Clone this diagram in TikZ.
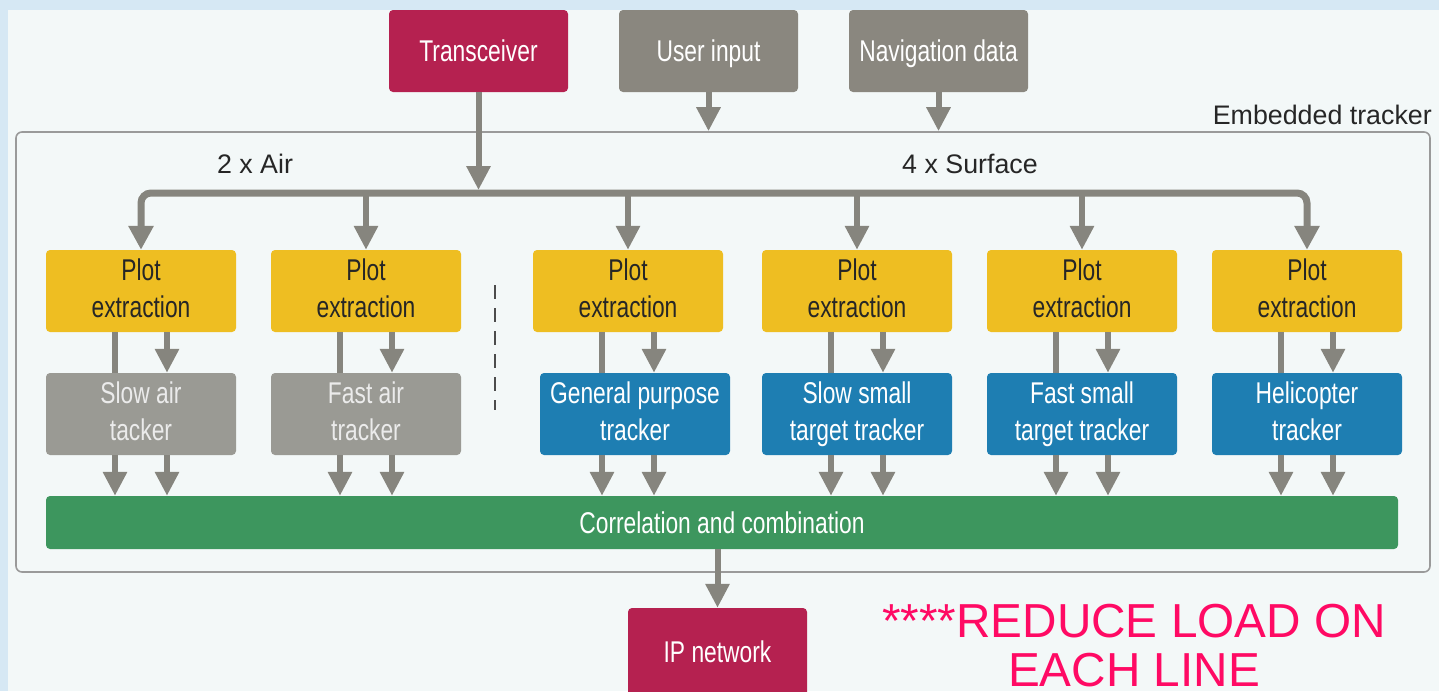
\documentclass[tikz,border=0pt]{standalone}
\usepackage{fontspec}
\setmainfont{Liberation Sans}
\newfontfamily\narrowf[FakeStretch=0.76]{Liberation Sans}
\usetikzlibrary{arrows.meta,calc}
\newcommand\bxstrut{\rule[-5.5pt]{0pt}{32.5pt}}
\definecolor{bgblue}{HTML}{D6E8F4}
\definecolor{panel}{HTML}{F3F8F8}
\definecolor{crim}{HTML}{B52150}
\definecolor{ingray}{HTML}{8A877F}
\definecolor{trgray}{HTML}{9A9A94}
\definecolor{yel}{HTML}{EEBE22}
\definecolor{blu}{HTML}{1E7EB2}
\definecolor{grn}{HTML}{3D965E}
\definecolor{arr}{HTML}{86857E}
\definecolor{embline}{HTML}{9A9A9A}
\definecolor{redtxt}{HTML}{FF0A64}
\tikzset{
  box/.style={rounded corners=4pt, inner sep=0pt, align=center,
    minimum width=190pt, minimum height=82pt,
    font=\narrowf\fontsize{30}{37}\selectfont,
    execute at begin node={\bxstrut}, execute at end node={\bxstrut}},
  inbox/.style={box, minimum width=179pt, fill=ingray, text=white},
  redbox/.style={box, minimum width=179pt, fill=crim, text=white},
  plotbox/.style={box, fill=yel, text=black!85},
  airbox/.style={box, fill=trgray, text=white!92!black},
  surfbox/.style={box, fill=blu, text=white},
  conn/.style={draw=arr, line width=6pt},
  arrow/.style={conn, -{Triangle[width=23pt,length=24pt]}},
  lbl/.style={font=\fontsize{26.8}{32}\selectfont, text=black!85, inner sep=0pt},
  note/.style={font=\fontsize{47.7}{51}\selectfont, text=redtxt, anchor=base, inner sep=0pt, text depth=0pt},
}
\begin{document}
\begin{tikzpicture}[x=1pt,y=-1pt]
\clip (0,0) rectangle (1439,691);
\fill[bgblue] (0,0) rectangle (1439,691);
\fill[panel] (8,10) rectangle (1439,691);

% embedded tracker frame
\node[draw=embline, line width=1.6pt, rounded corners=6pt, fill=panel, minimum width=1414pt, minimum height=440pt, inner sep=0pt] (emb) at (723,352) {};
\node[lbl, anchor=base east] (emblbl) at (1432,124) {Embedded tracker};
\node[lbl, anchor=base] (air) at (255,173) {2 x Air};
\node[lbl, anchor=base] (surf) at (970,173) {4 x Surface};

% inputs
\node[redbox] (trans) at (478.5,51) {Transceiver};
\node[inbox] (user) at (708.5,51) {User input};
\node[inbox] (nav) at (938.5,51) {Navigation data};

% plot extraction
\node[plotbox] (p1) at (141,291) {Plot\\extraction};
\node[plotbox] (p2) at (366,291) {Plot\\extraction};
\node[plotbox] (p3) at (628,291) {Plot\\extraction};
\node[plotbox] (p4) at (857,291) {Plot\\extraction};
\node[plotbox] (p5) at (1082,291) {Plot\\extraction};
\node[plotbox] (p6) at (1307,291) {Plot\\extraction};

% trackers
\node[airbox] (t1) at (141,414) {Slow air\\tacker};
\node[airbox] (t2) at (366,414) {Fast air\\tracker};
\node[surfbox] (t3) at (635,414) {General purpose\\tracker};
\node[surfbox] (t4) at (857,414) {Slow small\\target tracker};
\node[surfbox] (t5) at (1082,414) {Fast small\\target tracker};
\node[surfbox] (t6) at (1307,414) {Helicopter\\tracker};

% correlation
\node[box, fill=grn, text=white, minimum width=1352pt, minimum height=53pt] (corr) at (722,522.5) {Correlation and combination};

% output
\node[redbox, minimum height=88pt] (ip) at (717.5,652) {IP network};

% red note
\node[note] (red1) at (1134,637) {****REDUCE LOAD ON};
\node[note] (red2) at (1134,686) {EACH LINE};

% bus
\coordinate (busY) at (0,193);
\draw[conn, line width=7pt, {Triangle[width=24pt,length=24pt]}-{Triangle[width=24pt,length=24pt]}, rounded corners=10pt]
  (p1.north) -- (p1.north |- busY) -- (p6.north |- busY) -- (p6.north);
\foreach \p in {p2,p3,p4,p5}{
  \draw[arrow] (\p.north |- busY) -- (\p.north);
}
\draw[arrow] (trans.south) -- ($(trans.south |- busY)+(0,-3)$);
\draw[arrow] (user.south) -- (user.south |- emb.north);
\draw[arrow] (nav.south) -- (nav.south |- emb.north);

% plot -> tracker -> correlation
\foreach \i in {1,...,6}{
  \draw[conn] ([xshift=-26pt]p\i.south) -- ([xshift=-26pt]p\i.south |- t\i.north);
  \draw[arrow] ([xshift=26pt]p\i.south) -- ([xshift=26pt]p\i.south |- t\i.north);
  \draw[arrow] ([xshift=-26pt]p\i.south |- t\i.south) -- ([xshift=-26pt]p\i.south |- corr.north);
  \draw[arrow] ([xshift=26pt]p\i.south |- t\i.south) -- ([xshift=26pt]p\i.south |- corr.north);
}
\draw[arrow] (corr.south -| ip.north) -- (ip.north);

% divider
\coordinate (d1) at (495,285);
\coordinate (d2) at (495,410);
\draw[black!70, line width=2pt, dash pattern=on 14pt off 9pt] (d1) -- (d2);
\end{tikzpicture}
\end{document}
